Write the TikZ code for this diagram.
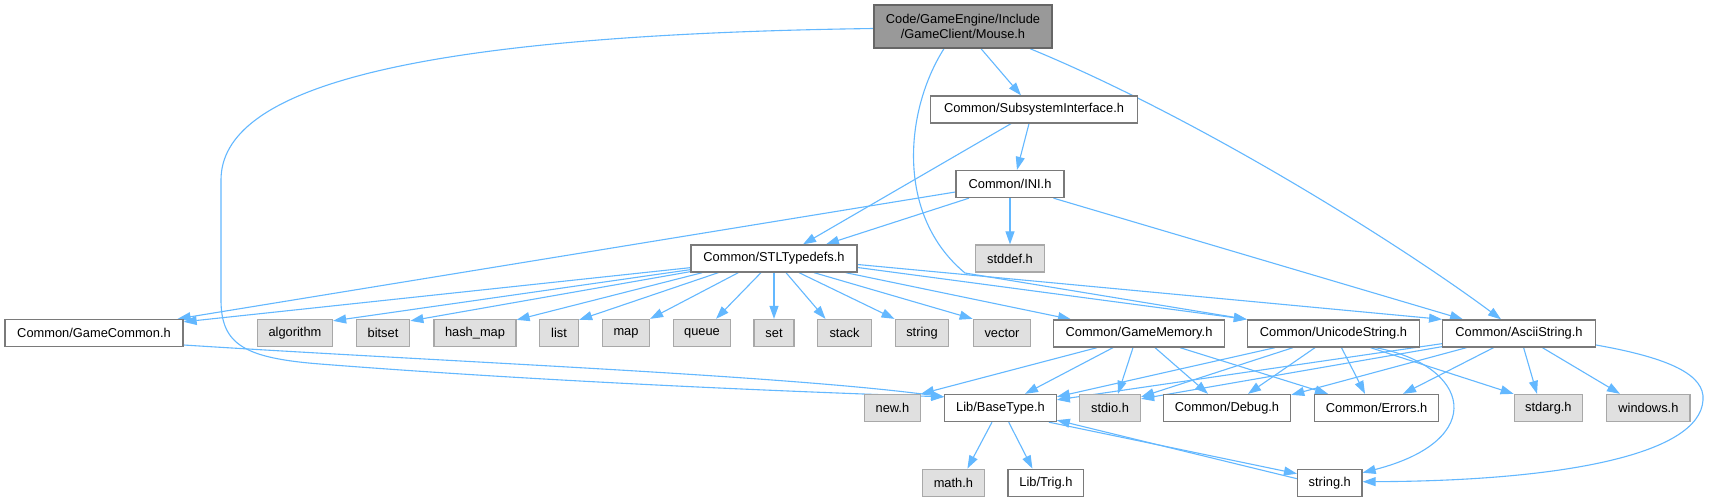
\documentclass[tikz,border=0pt]{standalone}
\usepackage{fontspec}
\setmainfont{Liberation Sans}
\usetikzlibrary{arrows.meta,calc}
\pgfdeclarelayer{background}
\pgfsetlayers{background,main}
\definecolor{edgec}{HTML}{63B8FF}
\definecolor{nborder}{HTML}{7A7A7A}
\definecolor{sborder}{HTML}{A8A8A8}
\definecolor{sfill}{HTML}{E0E0E0}
\definecolor{mfill}{HTML}{999999}
\definecolor{mborder}{HTML}{666666}
\begin{document}
\begin{tikzpicture}[x=1pt,y=-1pt,
  box/.style={draw=nborder, fill=white, line width=1.3pt, minimum height=27pt, inner sep=0pt, font=\fontsize{12.85}{15.5}\selectfont},
  sys/.style={box, draw=sborder, fill=sfill},
  mainbox/.style={box, draw=mborder, fill=mfill, minimum height=43pt, align=center},
  dep/.style={draw=edgec, line width=1.1pt, -{Triangle[length=13pt,width=9pt]}},
]
\useasboundingbox (0,0) rectangle (1717,501);
\node[mainbox, minimum width=178pt] (m) at (963,26.5) {Code/GameEngine/Include\\/GameClient/Mouse.h};
\node[box, minimum width=207pt] (sub) at (1034,109.5) {Common/SubsystemInterface.h};
\node[box, minimum width=108pt] (ini) at (1010,184) {Common/INI.h};
\node[box, minimum width=166pt] (stl) at (774,258.5) {Common/STLTypedefs.h};
\node[sys, minimum width=69pt] (stddef) at (1010,258.5) {stddef.h};
\node[box, minimum width=178pt] (gc) at (94,333) {Common/GameCommon.h};
\node[sys, minimum width=75pt] (alg) at (295,333) {algorithm};
\node[sys, minimum width=53.5pt] (bitset) at (383,333) {bitset};
\node[sys, minimum width=82pt] (hash) at (475,333) {hash\_map};
\node[sys, minimum width=39pt] (list) at (559,333) {list};
\node[sys, minimum width=47pt] (map) at (626,333) {map};
\node[sys, minimum width=56.6pt] (queue) at (702,333) {queue};
\node[sys, minimum width=40pt] (set) at (774,333) {set};
\node[sys, minimum width=53.6pt] (stack) at (844.5,333) {stack};
\node[sys, minimum width=53.6pt] (string) at (922,333) {string};
\node[sys, minimum width=57.4pt] (vector) at (1002,333) {vector};
\node[box, minimum width=170.6pt] (gm) at (1139,333.5) {Common/GameMemory.h};
\node[box, minimum width=172pt] (uni) at (1333.5,333.5) {Common/UnicodeString.h};
\node[box, minimum width=152.6pt] (asc) at (1519,333.5) {Common/AsciiString.h};
\node[sys, minimum width=56pt] (newh) at (892.4,408) {new.h};
\node[box, minimum width=111.4pt] (bt) at (1000.5,408) {Lib/BaseType.h};
\node[sys, minimum width=61pt] (stdio) at (1110,408) {stdio.h};
\node[box, minimum width=127.3pt] (dbg) at (1227,408) {Common/Debug.h};
\node[box, minimum width=124pt] (err) at (1376.6,408) {Common/Errors.h};
\node[sys, minimum width=68.3pt] (stdarg) at (1548.4,408) {stdarg.h};
\node[sys, minimum width=83.2pt] (win) at (1648.4,408) {windows.h};
\node[sys, minimum width=61.6pt] (math) at (953.4,482.7) {math.h};
\node[box, minimum width=75.7pt] (trig) at (1045.9,482.7) {Lib/Trig.h};
\node[box, minimum width=64.4pt] (strh) at (1329.8,482.7) {string.h};
\coordinate (j1) at (965,273);
\begin{pgfonlayer}{background}
\fill[white] (0,0) rectangle (1717,501);
% Mouse.h
\path[dep] ($(m.south)+(18,0)$) -- ($(sub.north)+(-13,0)$);
\path[dep] ($(m.south)+(67,0)$) .. controls +(170,70) and +(-101,-75) .. ($(asc.north)+(-18,0)$);
\path[dep] ($(m.south)+(-19,0)$) .. controls (905,110) and (895,215) .. (j1) -- (uni.north west);
\path[dep] ($(m.west)+(0,2)$) .. controls (400,35) and (221,90) .. (221,180) -- (221,300) .. controls (221,345) and (245,358) .. (320,364) .. controls (550,382) and (800,392) .. ($(bt.north west)+(0,3)$);
% GameCommon
\path[dep] ($(gc.east)+(0,12)$) .. controls (450,362) and (780,375) .. ($(bt.north west)+(0,3)$);
% SubsystemInterface
\path[dep] ($(sub.south)+(-23,0)$) -- ($(stl.north)+(29,0)$);
\path[dep] ($(sub.south)+(-5,0)$) -- ($(ini.north)+(7,0)$);
% INI
\path[dep] ($(ini.west)+(0,8)$) -- ($(gc.north east)+(-6,0)$);
\path[dep] ($(ini.south)+(-41,0)$) -- ($(stl.north)+(52,0)$);
\path[dep] (ini.south) -- (stddef.north);
\path[dep] ($(ini.south)+(43.5,0)$) -- ($(asc.north)+(-56,0)$);
% STLTypedefs
\path[dep] ($(stl.south west)+(0,-5)$) -- ($(gc.north east)+(0,3)$);
\path[dep] ($(stl.south west)+(0,-3)$) -- ($(alg.north east)+(0,2)$);
\path[dep] ($(stl.south west)+(0,-1)$) -- ($(bitset.north east)+(0,2)$);
\path[dep] ($(stl.south west)+(12,0)$) -- ($(hash.north east)+(0,1)$);
\path[dep] ($(stl.south west)+(28,0)$) -- ($(list.north east)+(0,1)$);
\path[dep] ($(stl.south west)+(48,0)$) -- (map.north east);
\path[dep] ($(stl.south)+(-13,0)$) -- ($(queue.north)+(14,0)$);
\path[dep] (stl.south) -- (set.north);
\path[dep] ($(stl.south)+(12,0)$) -- ($(stack.north)+(-19,0)$);
\path[dep] ($(stl.south)+(25,0)$) -- (string.north west);
\path[dep] ($(stl.south)+(40,0)$) -- (vector.north west);
\path[dep] ($(stl.south east)+(-12,0)$) -- ($(gm.north)+(-68,0)$);
\path[dep] ($(stl.east)+(0,9)$) -- (uni.north west);
\path[dep] ($(stl.east)+(0,6)$) -- (asc.north west);
% GameMemory
\path[dep] ($(gm.south)+(-42,0)$) -- (newh.north east);
\path[dep] ($(gm.south)+(-26,0)$) -- ($(bt.north)+(24.5,0)$);
\path[dep] ($(gm.south)+(-6,0)$) -- ($(stdio.north)+(8,0)$);
\path[dep] ($(gm.south)+(16,0)$) -- ($(dbg.north)+(-19,0)$);
\path[dep] ($(gm.south)+(41,0)$) -- ($(err.north)+(-48.6,0)$);
% UnicodeString
\path[dep] ($(uni.south)+(-58.5,0)$) -- ($(bt.north east)+(0,3)$);
\path[dep] ($(uni.south)+(-40.5,0)$) -- ($(stdio.north east)+(0,3)$);
\path[dep] ($(uni.south)+(-18.5,0)$) -- ($(dbg.north)+(21,0)$);
\path[dep] ($(uni.south)+(8,0)$) -- ($(err.north)+(-11.6,0)$);
\path[dep] ($(uni.south)+(37,0)$) -- (stdarg.north west);
\path[dep] ($(uni.south)+(42,0)$) .. controls (1470,365) and (1490,440) .. ($(strh.east)+(0,-10)$);
% AsciiString
\path[dep] ($(asc.south west)+(0,-4)$) -- ($(bt.north east)+(0,6)$);
\path[dep] ($(asc.south west)+(0,-1)$) -- ($(stdio.north east)+(0,5)$);
\path[dep] ($(asc.south)+(-52.5,0)$) -- ($(dbg.north east)+(0,1)$);
\path[dep] ($(asc.south)+(-25.4,0)$) -- ($(err.north)+(26.4,0)$);
\path[dep] ($(asc.south)+(4.6,0)$) -- ($(stdarg.north)+(-11.4,0)$);
\path[dep] ($(asc.south)+(23.4,0)$) -- ($(win.north)+(-28.4,0)$);
\path[dep] ($(asc.east)+(0,11.5)$) .. controls (1670,358) and (1705,375) .. (1703,400) .. controls (1700,455) and (1560,481) .. ($(strh.east)+(0,-1)$);
% BaseType
\path[dep] ($(bt.south)+(-8.5,0)$) -- ($(math.north)+(14,0)$);
\path[dep] ($(bt.south)+(8.2,0)$) -- ($(trig.north)+(-13.5,0)$);
\path[dep] ($(bt.south east)+(-8,0)$) -- ($(strh.west)+(0,-9)$);
% string.h
\path[dep] ($(strh.west)+(0,-4)$) -- ($(bt.south east)+(0,-2)$);
\end{pgfonlayer}
\end{tikzpicture}
\end{document}
